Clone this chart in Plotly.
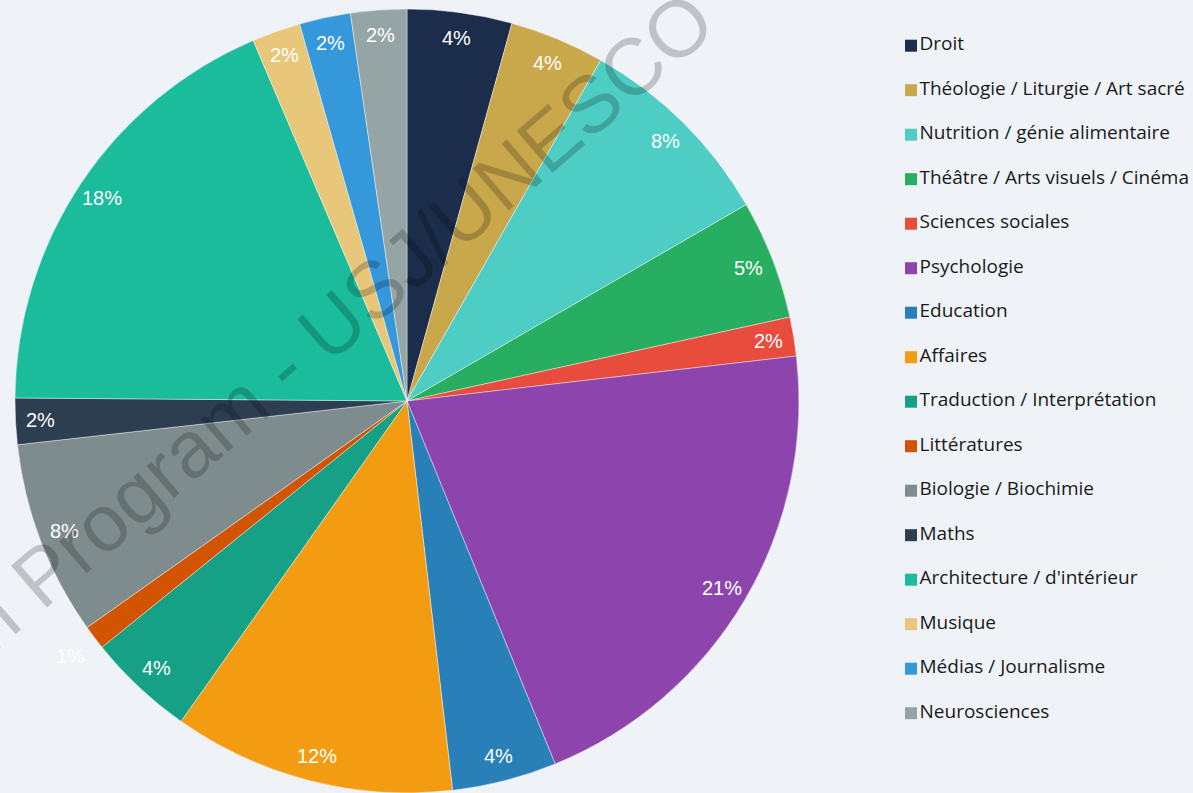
import math
import plotly.graph_objects as go

# ---- data ----
categories = [
    "Droit", "Théologie / Liturgie / Art sacré", "Nutrition / génie alimentaire",
    "Théâtre / Arts visuels / Cinéma", "Sciences sociales", "Psychologie",
    "Education", "Affaires", "Traduction / Interprétation", "Littératures",
    "Biologie / Biochimie", "Maths", "Architecture / d'intérieur", "Musique",
    "Médias / Journalisme", "Neurosciences",
]
values = [4.3, 3.9, 8.4, 4.9, 1.6, 20.6, 4.3, 11.6, 4.4, 1.0, 8.0, 1.9, 18.4, 2.0, 2.1, 2.3]
colors = [
    "#1b2d4a", "#c9a84c", "#4ecdc4", "#27ae60", "#e74c3c", "#8e44ad",
    "#2980b9", "#f39c12", "#16a085", "#d35400", "#7f8c8d", "#2c3e50",
    "#1abc9c", "#e8c77a", "#3498db", "#95a5a6",
]
outside_labels = ["Littératures"]

W, H = 1193, 793
BG = "#eff3f8"

# pie geometry (domain in pixels)
px0, px1 = 15, 799
py_top, py_bot = 9, 793
dom_x = [px0 / W, px1 / W]
dom_y = [1 - py_bot / H, 1 - py_top / H]

fig = go.Figure()
fig.add_trace(go.Pie(
    labels=categories, values=values, sort=False, direction="clockwise",
    rotation=0, marker=dict(colors=colors, line=dict(color="rgba(255,255,255,0.6)", width=0.7)),
    textinfo="none", hoverinfo="label+percent", showlegend=False,
    domain=dict(x=dom_x, y=dom_y),
))

# slice labels, positioned from cumulative values on a unit-circle axis
total = sum(values)
label_annots = []
cum = 0.0
for cat, v in zip(categories, values):
    mid = (cum + v / 2) / total * 2 * math.pi
    cum += v
    r = 1.077 if cat in outside_labels else 0.935
    label_annots.append(dict(
        x=r * math.sin(mid), y=r * math.cos(mid), xref="x", yref="y",
        text=f"{round(v / total * 100)}%", showarrow=False,
        xanchor="center", yanchor="middle",
        font=dict(color="white", size=20, family="Liberation Sans, Arial"),
    ))

# invisible anchor trace so the unit-circle axes exist
fig.add_trace(go.Scatter(x=[-1, 1], y=[-1, 1], mode="none", xaxis="x", yaxis="y",
                         hoverinfo="skip", showlegend=False))

# legend drawn as a scatter column
fig.add_trace(go.Scatter(
    x=[0] * len(categories), y=list(range(len(categories))), text=categories,
    mode="markers+text", textposition="middle right", xaxis="x2", yaxis="y2",
    marker=dict(symbol="square", size=12, color=colors),
    textfont=dict(color="#1a1a1a", size=19, family="Open Sans"),
    hoverinfo="skip", showlegend=False, cliponaxis=False,
))

step = 44.5
first = 45.7
y2_top = -first / step
y2_bot = y2_top + H / step

axis_off = dict(showgrid=False, zeroline=False, showticklabels=False,
                showline=False, fixedrange=True)
watermark = dict(
    text="n Program - USJ/UNESCO", xref="paper", yref="paper",
    x=337 / W, y=1 - 321 / H, xanchor="center", yanchor="middle",
    textangle=-40.7, showarrow=False,
    font=dict(size=80, color="rgba(0,0,0,0.2)", family="Liberation Sans, Arial"),
)
fig.update_layout(
    width=W, height=H,
    margin=dict(l=0, r=0, t=0, b=0),
    paper_bgcolor=BG, plot_bgcolor="rgba(0,0,0,0)",
    xaxis=dict(domain=dom_x, range=[-1, 1], **axis_off),
    yaxis=dict(domain=dom_y, range=[-1, 1], **axis_off),
    xaxis2=dict(domain=[905 / W, 1], range=[-6, W - 905 - 6], anchor="y2", **axis_off),
    yaxis2=dict(domain=[0, 1], range=[y2_bot, y2_top], anchor="x2", **axis_off),
    annotations=label_annots + [watermark],
)

fig.write_html("out.html", config={"displayModeBar": False},
               post_script="document.body.style.margin='0';document.body.style.background='%s';" % BG)
